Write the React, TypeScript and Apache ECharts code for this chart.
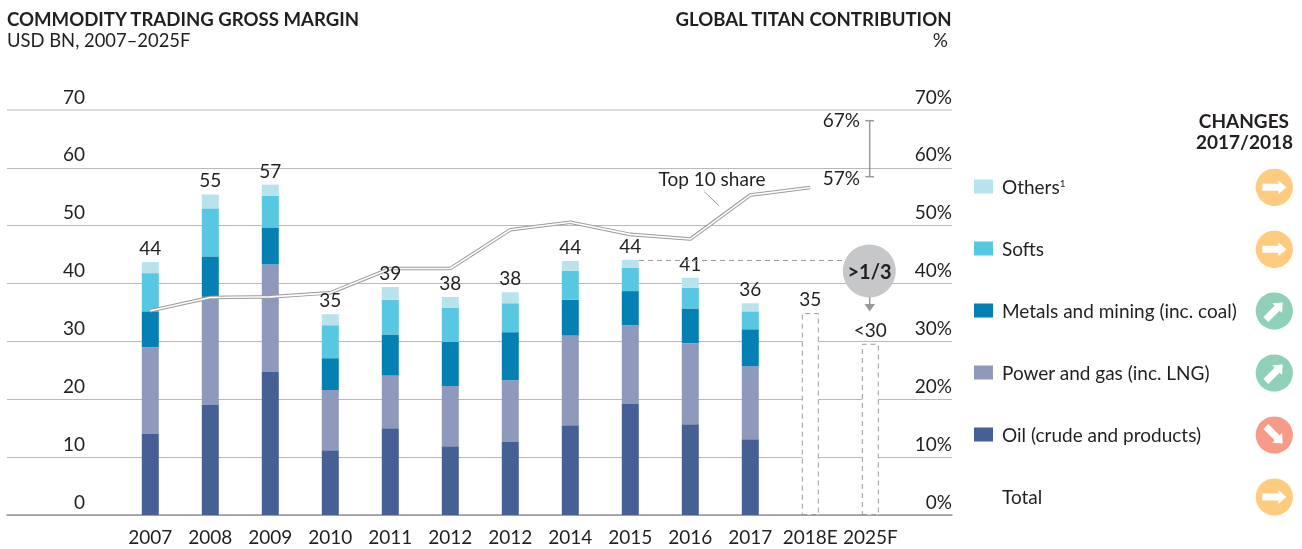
import React, { useEffect, useRef } from "react";
import * as echarts from "echarts";

const categories = ["2007","2008","2009","2010","2011","2012","2012","2014","2015","2016","2017","2018E","2025F"];
const oil = [14.0,19.0,24.7,11.2,15.0,11.9,12.6,15.5,19.2,15.7,13.1,null,null];
const power = [15.0,18.7,18.6,10.4,9.1,10.4,10.7,15.5,13.6,14.0,12.6,null,null];
const metals = [6.2,7.0,6.4,5.5,7.1,7.6,8.3,6.2,5.9,6.0,6.4,null,null];
const softs = [6.6,8.3,5.5,5.7,6.0,5.9,5.0,5.0,4.0,3.6,3.1,null,null];
const others = [1.9,2.4,1.9,1.9,2.2,1.9,1.9,1.7,1.4,1.7,1.4,null,null];
const forecast = [null,null,null,null,null,null,null,null,null,null,null,34.9,29.6];
const barTops = [43.7,55.4,57.1,34.7,39.4,37.7,38.5,43.9,44.1,41.0,36.6,34.9,29.6];
const totalLabels = ["44","55","57","35","39","38","38","44","44","41","36","35","<30"];
const top10Share = [35.3,37.6,37.7,38.4,42.6,42.6,49.3,50.6,48.5,47.7,55.3,56.6,null];

const legendNames = ["Others","Softs","Metals and mining (inc. coal)","Power and gas (inc. LNG)","Oil (crude and products)"];
const changeRows = [
  { dir: "flat", y: 187.3 }, { dir: "flat", y: 249.3 }, { dir: "up", y: 311 },
  { dir: "up", y: 373 }, { dir: "down", y: 435 }, { dir: "flat", y: 497 },
];

const INK = "#231f20";
const FONT = "Lato";
const SIZE = 19;
const COLORS = { oil: "#466096", power: "#8E99BC", metals: "#0480B3", softs: "#58C7E1", others: "#B8E3EC" };
const DIR_COLOR: Record<string,string> = { flat: "#FFCC7F", up: "#8FD1B8", down: "#F79A87" };
const DIR_ROT: Record<string,number> = { flat: 0, up: Math.PI/4, down: -Math.PI/4 };
const arrowPts = [[-12,-3.5],[4,-3.5],[4,-7],[12,0],[4,7],[4,3.5],[-12,3.5]];

function txt(text: string, x: number, y: number, align: string, size = SIZE, weight: any = "normal") {
  return { type: "text", x, y, z: 50, style: { text, fill: INK, font: `${weight} ${size}px ${FONT}`, textAlign: align, textVerticalAlign: "middle" } };
}
function ln(x1: number, y1: number, x2: number, y2: number, extra: any = {}) {
  return { type: "line", z: 40, shape: { x1, y1, x2, y2 }, style: { stroke: "#9a9a9a", lineWidth: 1.5, ...extra } };
}

export default function App() {
  const ref = useRef<HTMLDivElement>(null);
  useEffect(() => {
    const chart = echarts.init(ref.current!, undefined, { renderer: "svg" });
    const stackSeries = (name: string, data: any[], color: string) => ({
      name, type: "bar", stack: "t", xAxisIndex: 1, yAxisIndex: 2, barWidth: 17, data, itemStyle: { color },
    });
    const graphics: any[] = [
      ln(7, 110, 952, 110, { stroke: "#dcdcdc", lineWidth: 2 }),
      txt("COMMODITY TRADING GROSS MARGIN", 7, 19, "left", 18.6, "bold"),
      txt("USD BN, 2007–2025F", 7, 40, "left", 18.4),
      txt("GLOBAL TITAN CONTRIBUTION", 951.5, 19, "right", 18.6, "bold"),
      txt("%", 948, 39.3, "right"),
      txt("CHANGES", 1289, 120, "right", 19, "bold"),
      txt("2017/2018", 1293, 141.5, "right", 19, "bold"),
      txt("Top 10 share", 712, 178.3, "center"),
      ln(704.3, 191.7, 719.3, 206, { lineWidth: 1 }),
      txt("67%", 860, 119.3, "right"),
      txt("57%", 860, 177.3, "right"),
      ln(869.7, 120.7, 869.7, 176.7),
      ln(865.3, 120.7, 874, 120.7),
      ln(865.3, 176.7, 874, 176.7),
      ln(639, 260.5, 846, 260.5, { lineWidth: 1, lineDash: [5, 4] }),
      { type: "circle", z: 41, shape: { cx: 869.3, cy: 271, r: 26.5 }, style: { fill: "#C6C7C9" } },
      txt(">1/3", 869.5, 271, "center", 20, "bold"),
      ln(869.7, 297, 869.7, 305),
      { type: "polygon", z: 40, shape: { points: [[864.5,304],[875,304],[869.7,311.5]] }, style: { fill: "#9a9a9a" } },
      txt("Total", 1002, 496, "left"),
    ];
    changeRows.forEach((r) => {
      graphics.push({ type: "circle", z: 40, shape: { cx: 1274.3, cy: r.y, r: 18.6 }, style: { fill: DIR_COLOR[r.dir] } });
      graphics.push({ type: "polygon", z: 41, x: 1274.3, y: r.y, rotation: DIR_ROT[r.dir], shape: { points: arrowPts }, style: { fill: "#fff" } });
    });
    chart.setOption({
      animation: false,
      textStyle: { fontFamily: FONT },
      grid: [
        { left: 7, right: 350, top: 110, bottom: 34 },
        { left: 120.3, width: 780, top: 110, bottom: 34 },
      ],
      legend: {
        orient: "vertical", left: 974, top: 177, padding: 0, itemWidth: 19, itemHeight: 14, itemGap: 43, icon: "rect",
        data: legendNames, selectedMode: false,
        formatter: (n: string) => (n === "Others" ? "Others{sup|1}" : n),
        textStyle: { fontFamily: FONT, fontSize: SIZE, color: INK, lineHeight: 18, padding: [0, 0, 0, 4],
          rich: { sup: { fontFamily: FONT, fontSize: 10, color: INK, lineHeight: 8, verticalAlign: "top" } } },
      },
      xAxis: [
        { gridIndex: 0, type: "value", min: 0, max: 1, position: "bottom", axisLabel: { show: false }, axisTick: { show: false }, splitLine: { show: false },
          axisLine: { show: true, onZero: false, lineStyle: { color: "#999", width: 1.5 } } },
        { gridIndex: 1, type: "category", data: categories, position: "bottom", axisLine: { show: false }, axisTick: { show: false },
          axisLabel: { interval: 0, margin: 12, fontFamily: FONT, fontSize: SIZE, color: INK } },
      ],
      yAxis: [
        { gridIndex: 0, type: "value", min: 0, max: 70, interval: 10, position: "left", axisLine: { show: false }, axisTick: { show: false },
          axisLabel: { margin: -78, align: "right", verticalAlign: "bottom", lineHeight: 28, fontFamily: FONT, fontSize: SIZE, color: INK },
          splitLine: { show: true, lineStyle: { color: ["#b9b9b9","#b9b9b9","#b9b9b9","#b9b9b9","#b9b9b9","#b9b9b9","#b9b9b9","transparent"], width: 1 } } },
        { gridIndex: 0, type: "value", min: 0, max: 70, interval: 10, position: "right", axisLine: { show: false }, axisTick: { show: false }, splitLine: { show: false },
          axisLabel: { inside: true, margin: 0, align: "right", verticalAlign: "bottom", lineHeight: 28, fontFamily: FONT, fontSize: SIZE, color: INK, formatter: "{value}%" } },
        { gridIndex: 1, type: "value", min: 0, max: 70, interval: 10, show: false, splitLine: { show: false } },
      ],
      series: [
        stackSeries("Oil (crude and products)", oil, COLORS.oil),
        stackSeries("Power and gas (inc. LNG)", power, COLORS.power),
        stackSeries("Metals and mining (inc. coal)", metals, COLORS.metals),
        stackSeries("Softs", softs, COLORS.softs),
        stackSeries("Others", others, COLORS.others),
        { name: "Forecast", type: "bar", stack: "t", xAxisIndex: 1, yAxisIndex: 2, barWidth: 17, data: forecast,
          itemStyle: { color: "#fff", borderColor: "#9a9a9a", borderWidth: 1, borderType: [5, 4] } },
        { name: "Top 10 share", type: "line", xAxisIndex: 1, yAxisIndex: 2, data: top10Share, showSymbol: false, z: 5,
          lineStyle: { color: "#9a9a9a", width: 3.6 } },
        { name: "Top 10 share core", type: "line", xAxisIndex: 1, yAxisIndex: 2, data: top10Share, showSymbol: false, z: 6,
          lineStyle: { color: "#fff", width: 1.6 } },
        { name: "Totals", type: "scatter", xAxisIndex: 1, yAxisIndex: 2, data: barTops, symbolSize: 0, z: 10, silent: true,
          itemStyle: { opacity: 1 },
          label: { show: true, position: "top", distance: 5, fontFamily: FONT, fontSize: SIZE, color: INK, opacity: 1,
            formatter: (p: any) => totalLabels[p.dataIndex] } },
      ],
      graphic: graphics,
    });
    return () => chart.dispose();
  }, []);
  return <div ref={ref} style={{ position: "fixed", left: 0, top: 0, width: 1302, height: 549 }} />;
}
